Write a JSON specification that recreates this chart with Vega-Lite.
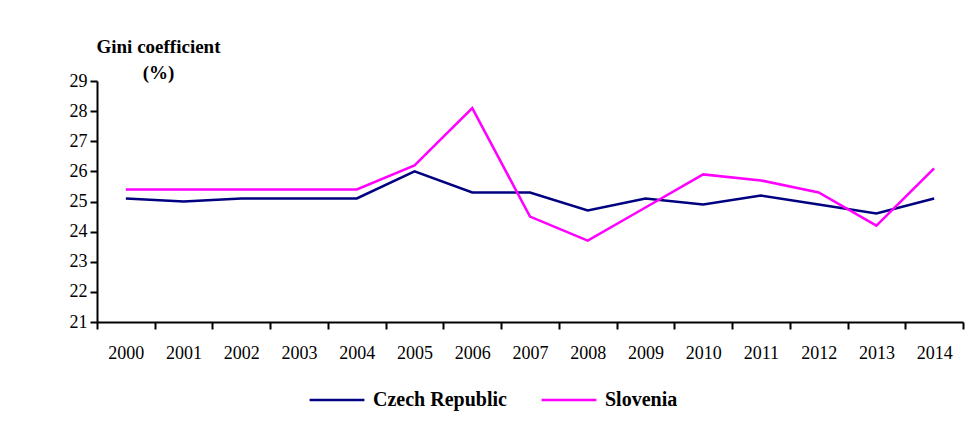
{
  "$schema": "https://vega.github.io/schema/vega-lite/v6.json",
  "width": 866,
  "height": 241,
  "autosize": {"type": "none"},
  "padding": {"left": 97, "top": 81, "right": 16, "bottom": 126},
  "background": "white",
  "config": {"view": {"stroke": null}, "font": "Liberation Serif"},
  "data": {"values": [
    {"year": "2000", "country": "Czech Republic", "gini": 25.1},
    {"year": "2001", "country": "Czech Republic", "gini": 25.0},
    {"year": "2002", "country": "Czech Republic", "gini": 25.1},
    {"year": "2003", "country": "Czech Republic", "gini": 25.1},
    {"year": "2004", "country": "Czech Republic", "gini": 25.1},
    {"year": "2005", "country": "Czech Republic", "gini": 26.0},
    {"year": "2006", "country": "Czech Republic", "gini": 25.3},
    {"year": "2007", "country": "Czech Republic", "gini": 25.3},
    {"year": "2008", "country": "Czech Republic", "gini": 24.7},
    {"year": "2009", "country": "Czech Republic", "gini": 25.1},
    {"year": "2010", "country": "Czech Republic", "gini": 24.9},
    {"year": "2011", "country": "Czech Republic", "gini": 25.2},
    {"year": "2012", "country": "Czech Republic", "gini": 24.9},
    {"year": "2013", "country": "Czech Republic", "gini": 24.6},
    {"year": "2014", "country": "Czech Republic", "gini": 25.1},
    {"year": "2000", "country": "Slovenia", "gini": 25.4},
    {"year": "2001", "country": "Slovenia", "gini": 25.4},
    {"year": "2002", "country": "Slovenia", "gini": 25.4},
    {"year": "2003", "country": "Slovenia", "gini": 25.4},
    {"year": "2004", "country": "Slovenia", "gini": 25.4},
    {"year": "2005", "country": "Slovenia", "gini": 26.2},
    {"year": "2006", "country": "Slovenia", "gini": 28.1},
    {"year": "2007", "country": "Slovenia", "gini": 24.5},
    {"year": "2008", "country": "Slovenia", "gini": 23.7},
    {"year": "2009", "country": "Slovenia", "gini": 24.8},
    {"year": "2010", "country": "Slovenia", "gini": 25.9},
    {"year": "2011", "country": "Slovenia", "gini": 25.7},
    {"year": "2012", "country": "Slovenia", "gini": 25.3},
    {"year": "2013", "country": "Slovenia", "gini": 24.2},
    {"year": "2014", "country": "Slovenia", "gini": 26.1}
  ]},
  "mark": {"type": "line", "strokeWidth": 2.5},
  "encoding": {
    "x": {
      "field": "year", "type": "ordinal", "bandPosition": 0.5,
      "scale": {"type": "band", "paddingInner": 0, "paddingOuter": 0},
      "axis": {
        "title": null, "labelAngle": 0, "tickBand": "extent",
        "domainColor": "black", "domainWidth": 2, "tickColor": "black", "tickWidth": 2, "tickSize": 7,
        "labelFontSize": 18, "labelColor": "black", "labelFont": "Liberation Serif", "labelPadding": 15, "grid": false
      }
    },
    "y": {
      "field": "gini", "type": "quantitative",
      "scale": {"domain": [21, 29], "nice": false, "zero": false},
      "axis": {
        "values": [21, 22, 23, 24, 25, 26, 27, 28, 29],
        "title": ["Gini coefficient", "(%)"],
        "titleAngle": 0, "titleAlign": "center", "titleBaseline": "alphabetic",
        "titleX": 61, "titleY": -29, "titleLineHeight": 26,
        "titleFont": "Liberation Serif", "titleFontSize": 19, "titleFontWeight": "bold", "titleColor": "black",
        "domainColor": "black", "domainWidth": 2, "tickColor": "black", "tickWidth": 2, "tickSize": 7,
        "labelFontSize": 18, "labelColor": "black", "labelFont": "Liberation Serif", "labelPadding": 3, "grid": false
      }
    },
    "color": {
      "field": "country", "type": "nominal",
      "scale": {"domain": ["Czech Republic", "Slovenia"], "range": ["#000080", "#FF00FF"]},
      "legend": {
        "title": null, "orient": "none", "legendX": 211, "legendY": 290, "direction": "horizontal",
        "symbolType": "stroke", "symbolSize": 3000, "symbolStrokeWidth": 2.5,
        "labelFont": "Liberation Serif", "labelFontSize": 20, "labelFontWeight": "bold", "labelColor": "black",
        "labelOffset": 7, "columnPadding": 29
      }
    }
  }
}
